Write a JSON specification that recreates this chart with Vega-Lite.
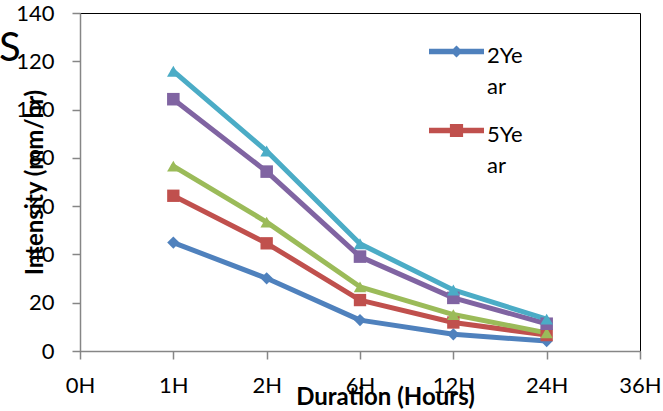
{
  "$schema": "https://vega.github.io/schema/vega-lite/v6.json",
  "width": 560,
  "height": 338,
  "autosize": {"type": "none"},
  "padding": {"left": 80, "top": 13, "right": 23, "bottom": 60},
  "background": "white",
  "title": {
    "text": "S",
    "orient": "none",
    "anchor": "start",
    "frame": "group",
    "font": "Lato",
    "fontSize": 40,
    "fontWeight": "normal",
    "color": "black",
    "baseline": "alphabetic",
    "offset": 0,
    "dx": -81,
    "dy": 48
  },
  "config": {
    "view": {"stroke": "black", "strokeWidth": 1},
    "font": "Lato",
    "axis": {
      "labelFont": "Lato",
      "labelFontSize": 22,
      "labelColor": "black",
      "titleFont": "Lato",
      "titleFontSize": 24,
      "titleFontWeight": "bold",
      "titleColor": "black",
      "domainColor": "#868686",
      "domainWidth": 1.5,
      "tickColor": "#868686",
      "tickWidth": 1.5,
      "tickSize": 8,
      "grid": false
    }
  },
  "data": {
    "values": [
      {"d": "1H", "s": "2Year", "v": 44.9},
      {"d": "2H", "s": "2Year", "v": 30.1},
      {"d": "6H", "s": "2Year", "v": 12.8},
      {"d": "12H", "s": "2Year", "v": 6.9},
      {"d": "24H", "s": "2Year", "v": 4.1},
      {"d": "1H", "s": "5Year", "v": 64.3},
      {"d": "2H", "s": "5Year", "v": 44.6},
      {"d": "6H", "s": "5Year", "v": 21.1},
      {"d": "12H", "s": "5Year", "v": 11.8},
      {"d": "24H", "s": "5Year", "v": 6.6},
      {"d": "1H", "s": "10Year", "v": 76.6},
      {"d": "2H", "s": "10Year", "v": 53.4},
      {"d": "6H", "s": "10Year", "v": 26.6},
      {"d": "12H", "s": "10Year", "v": 15.1},
      {"d": "24H", "s": "10Year", "v": 7.5},
      {"d": "1H", "s": "25Year", "v": 104.3},
      {"d": "2H", "s": "25Year", "v": 74.3},
      {"d": "6H", "s": "25Year", "v": 39.1},
      {"d": "12H", "s": "25Year", "v": 22.0},
      {"d": "24H", "s": "25Year", "v": 11.3},
      {"d": "1H", "s": "50Year", "v": 115.9},
      {"d": "2H", "s": "50Year", "v": 82.8},
      {"d": "6H", "s": "50Year", "v": 44.4},
      {"d": "12H", "s": "50Year", "v": 25.3},
      {"d": "24H", "s": "50Year", "v": 13.2}
    ]
  },
  "encoding": {
    "x": {
      "field": "d",
      "type": "ordinal",
      "sort": null,
      "scale": {"type": "point", "domain": ["0H", "1H", "2H", "6H", "12H", "24H", "36H"], "padding": 0},
      "axis": {
        "title": "Duration (Hours)",
        "labelAngle": 0,
        "labelPadding": 16,
        "titleX": 305,
        "titleY": 46,
        "titleBaseline": "middle",
        "titleAnchor": "middle",
        "titleAlign": "center"
      }
    },
    "y": {
      "field": "v",
      "type": "quantitative",
      "scale": {"domain": [0, 140], "nice": false},
      "axis": {
        "title": "Intensity (mm/hr)",
        "values": [0, 20, 40, 60, 80, 100, 120, 140],
        "labelPadding": 18,
        "labelBaseline": "middle",
        "titleX": -45,
        "titleBaseline": "middle",
        "titleAlign": "center",
        "titleAnchor": "middle"
      }
    }
  },
  "resolve": {"legend": {"color": "independent"}},
  "layer": [
    {
      "mark": {"type": "line", "strokeWidth": 5, "strokeCap": "round", "strokeJoin": "round"},
      "encoding": {
        "detail": {"field": "s"},
        "color": {
          "field": "s",
          "type": "nominal",
          "scale": {
            "domain": ["2Year", "5Year", "10Year", "25Year", "50Year"],
            "range": ["#4F81BD", "#C0504D", "#9BBB59", "#8064A2", "#4BACC6"]
          },
          "legend": {
            "values": ["2Year", "5Year"],
            "orient": "none",
            "legendX": 349,
            "legendY": 11,
            "title": null,
            "padding": 0,
            "symbolSize": 3025,
            "symbolType": "circle",
            "labelFont": "Lato",
            "labelFontSize": 22,
            "labelColor": "black",
            "labelOffset": 3,
            "labelBaseline": "alphabetic",
            "rowPadding": 5,
            "labelExpr": "[substring(datum.label,0,3), substring(datum.label,3)]",
            "encode": {
              "symbols": {
                "update": {
                  "shape": {"signal": "datum.value === '2Year' ? 'M-1,-0.1L1,-0.1L1,0.1L-1,0.1Z M0,-0.22L0.22,0L0,0.22L-0.22,0Z' : 'M-1,-0.1L1,-0.1L1,0.1L-1,0.1Z M-0.24,-0.24L0.24,-0.24L0.24,0.24L-0.24,0.24Z'"},
                  "fill": {"scale": "color", "field": "value"},
                  "strokeWidth": {"value": 0},
                  "opacity": {"value": 1}
                }
              },
              "labels": {
                "update": {
                  "dy": {"value": 11},
                  "lineHeight": {"value": 31}
                }
              }
            }
          }
        }
      }
    },
    {
      "mark": {"type": "point", "filled": true, "opacity": 1},
      "encoding": {
        "color": {"field": "s", "type": "nominal", "legend": null},
        "shape": {
          "field": "s",
          "type": "nominal",
          "legend": null,
          "scale": {
            "domain": ["2Year", "5Year", "10Year", "25Year", "50Year"],
            "range": ["diamond", "square", "triangle-up", "square", "triangle-up"]
          }
        },
        "size": {
          "field": "s",
          "type": "nominal",
          "legend": null,
          "scale": {
            "domain": ["2Year", "5Year", "10Year", "25Year", "50Year"],
            "range": [150, 160, 200, 160, 200]
          }
        }
      }
    }
  ]
}
